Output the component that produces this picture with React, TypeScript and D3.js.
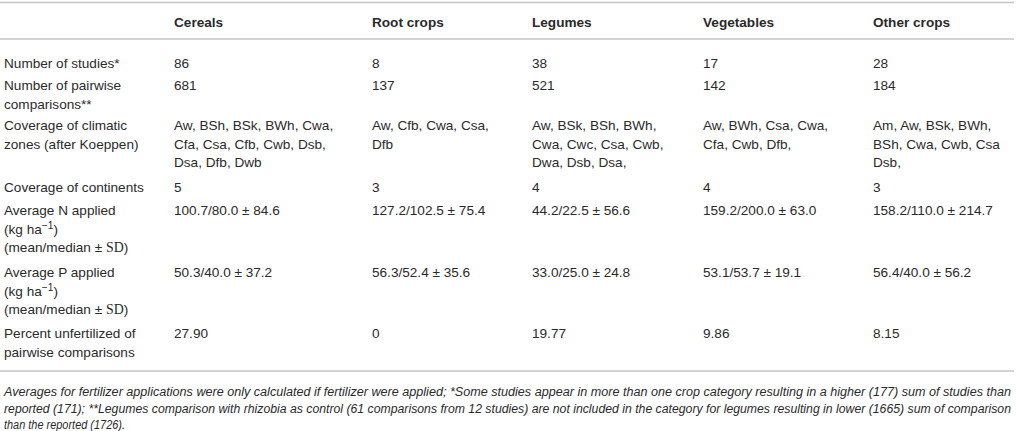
import React from "react";
import * as d3 from "d3";

const categories = ["Cereals", "Root crops", "Legumes", "Vegetables", "Other crops"];

const numberOfStudies = ["86", "8", "38", "17", "28"];
const pairwiseComparisons = ["681", "137", "521", "142", "184"];
const climaticZones = [
  ["Aw, BSh, BSk, BWh, Cwa,", "Cfa, Csa, Cfb, Cwb, Dsb,", "Dsa, Dfb, Dwb"],
  ["Aw, Cfb, Cwa, Csa,", "Dfb"],
  ["Aw, BSk, BSh, BWh,", "Cwa, Cwc, Csa, Cwb,", "Dwa, Dsb, Dsa,"],
  ["Aw, BWh, Csa, Cwa,", "Cfa, Cwb, Dfb,"],
  ["Am, Aw, BSk, BWh,", "BSh, Cwa, Cwb, Csa", "Dsb,"],
];
const continents = ["5", "3", "4", "4", "3"];
const nApplied = ["100.7/80.0 ± 84.6", "127.2/102.5 ± 75.4", "44.2/22.5 ± 56.6", "159.2/200.0 ± 63.0", "158.2/110.0 ± 214.7"];
const pApplied = ["50.3/40.0 ± 37.2", "56.3/52.4 ± 35.6", "33.0/25.0 ± 24.8", "53.1/53.7 ± 19.1", "56.4/40.0 ± 56.2"];
const percentUnfertilized = ["27.90", "0", "19.77", "9.86", "8.15"];

const footnoteLines = [
  "Averages for fertilizer applications were only calculated if fertilizer were applied; *Some studies appear in more than one crop category resulting in a higher (177) sum of studies than",
  "reported (171); **Legumes comparison with rhizobia as control (61 comparisons from 12 studies) are not included in the category for legumes resulting in lower (1665) sum of comparison",
  "than the reported (1726).",
];
const footnoteWidths = [1007, 1007, 121];

type Line = string;
const rows: { label: Line[]; cells: string[][] }[] = [
  { label: ["Number of studies*"], cells: numberOfStudies.map((v) => [v]) },
  { label: ["Number of pairwise", "comparisons**"], cells: pairwiseComparisons.map((v) => [v]) },
  { label: ["Coverage of climatic", "zones (after Koeppen)"], cells: climaticZones },
  { label: ["Coverage of continents"], cells: continents.map((v) => [v]) },
  { label: ["Average N applied", "@KG", "@MEAN"], cells: nApplied.map((v) => [v]) },
  { label: ["Average P applied", "@KG", "@MEAN"], cells: pApplied.map((v) => [v]) },
  { label: ["Percent unfertilized of", "pairwise comparisons"], cells: percentUnfertilized.map((v) => [v]) },
];

// layout
const W = 1017;
const H = 431;
const colPositions = [174, 372, 532, 703, 873];
const rowTops = [63, 85, 125, 187, 210, 272, 333];
const lineH = 18.8;
const FONT = "'Liberation Sans', Arial, Helvetica, sans-serif";
const SERIF = "'Liberation Serif', 'Times New Roman', serif";
const TEXT = "#2a2a2a";
const RULE = "#c4c4c4";
const FS = 13.6;

export default function App() {
  const x = d3.scaleOrdinal<string, number>().domain(categories).range(colPositions);
  const y = d3.scaleOrdinal<number, number>().domain(d3.range(rows.length)).range(rowTops);

  const renderLabelLine = (l: string) => {
    if (l === "@KG")
      return (
        <>
          (kg ha
          <tspan fontSize={FS * 0.75} dy={-5}>
            −1
          </tspan>
          <tspan dy={5}>)</tspan>
        </>
      );
    if (l === "@MEAN")
      return (
        <>
          (mean/median ±{" "}
          <tspan fontFamily={SERIF} fontSize={FS * 1.02}>
            SD
          </tspan>
          )
        </>
      );
    return l;
  };

  return (
    <svg
      width={W}
      height={H}
      style={{ position: "absolute", left: 0, top: 0, background: "#fff" }}
      fontFamily={FONT}
      fontSize={FS}
      fill={TEXT}
    >
      <line x1={0} x2={1014} y1={2.5} y2={2.5} stroke={RULE} strokeWidth={1.5} />
      <line x1={0} x2={1014} y1={39} y2={39} stroke={RULE} strokeWidth={1.5} />
      <line x1={0} x2={1014} y1={371} y2={371} stroke={RULE} strokeWidth={1.5} />

      {categories.map((c) => (
        <text key={c} x={x(c)} y={22} dy="0.35em" fontWeight="bold">
          {c}
        </text>
      ))}

      {rows.map((r, i) => (
        <g key={i}>
          {r.label.map((l, j) => (
            <text key={j} x={4} y={y(i) + j * lineH} dy="0.35em">
              {renderLabelLine(l)}
            </text>
          ))}
          {r.cells.map((cell, k) =>
            cell.map((l, j) => (
              <text key={k + "-" + j} x={x(categories[k])} y={y(i) + j * lineH} dy="0.35em">
                {l}
              </text>
            ))
          )}
        </g>
      ))}

      {footnoteLines.map((l, i) => (
        <text
          key={i}
          x={4}
          y={392 + i * 16.6}
          dy="0.35em"
          fontStyle="italic"
          fontSize={12}
          textLength={footnoteWidths[i]}
          lengthAdjust="spacingAndGlyphs"
        >
          {l}
        </text>
      ))}
    </svg>
  );
}
